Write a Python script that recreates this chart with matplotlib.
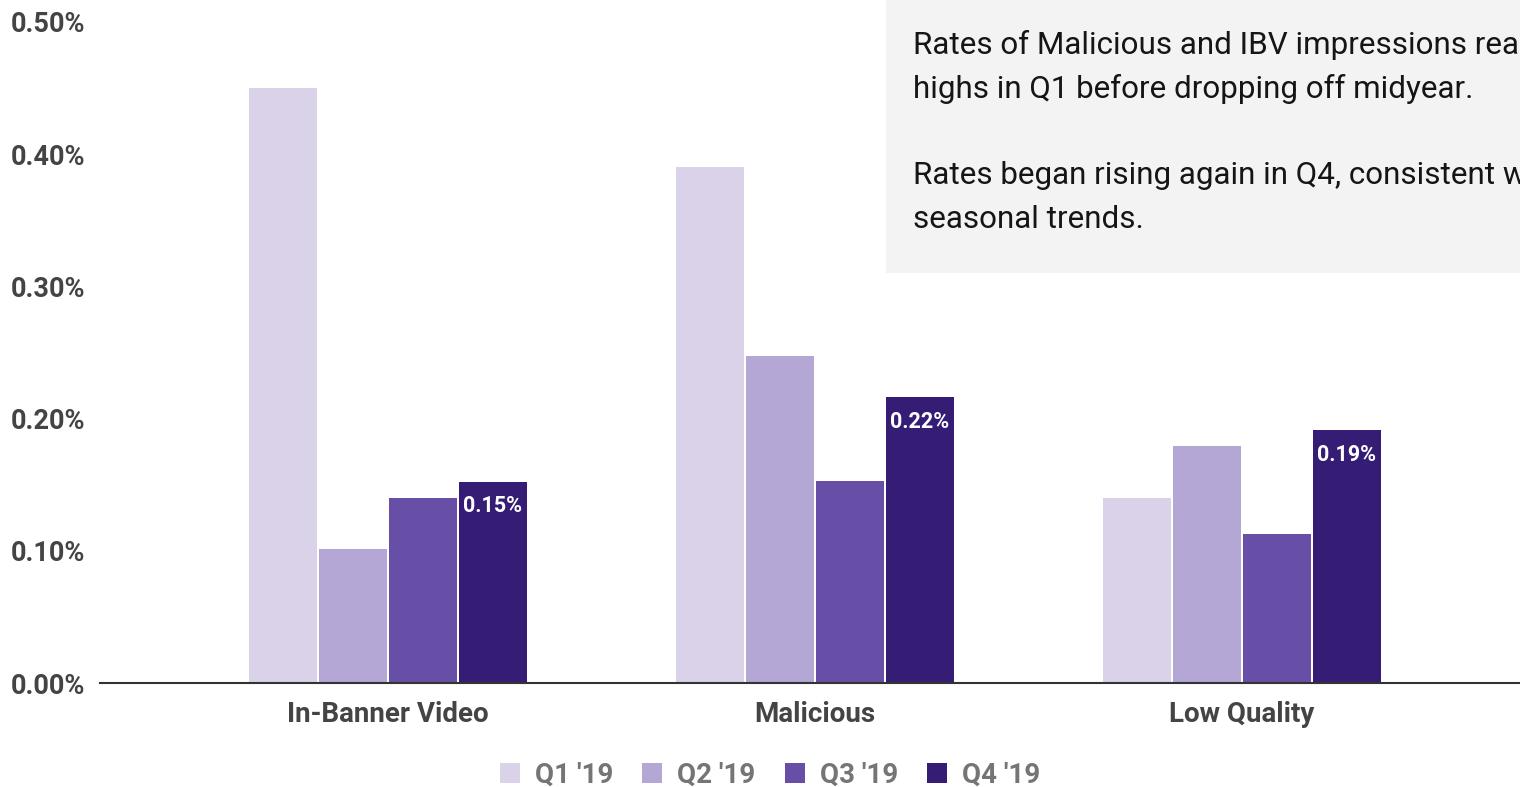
"""Quarterly impression rates by category, grouped bar chart."""

import matplotlib.pyplot as plt
import numpy as np
from matplotlib.patches import Patch, Rectangle

plt.rcParams["font.family"] = ["Roboto", "DejaVu Sans"]

CATEGORIES = ["In-Banner Video", "Malicious", "Low Quality"]
QUARTERS = ["Q1 '19", "Q2 '19", "Q3 '19", "Q4 '19"]

# rates in percent
Q1_RATES = [0.450, 0.390, 0.140]
Q2_RATES = [0.101, 0.247, 0.179]
Q3_RATES = [0.140, 0.153, 0.113]
Q4_RATES = [0.152, 0.216, 0.191]

Y_TICKS = [0.0, 0.1, 0.2, 0.3, 0.4, 0.5]

NOTE_LINES = [
    "Rates of Malicious and IBV impressions reached",
    "highs in Q1 before dropping off midyear.",
    "",
    "Rates began rising again in Q4, consistent with",
    "seasonal trends.",
]

COLORS = ["#d9d2e9", "#b4a7d6", "#674ea7", "#351c75"]
TEXT_DARK = "#444444"
TEXT_LEGEND = "#757575"

W, H = 1520, 787


def main() -> None:
    fig = plt.figure(figsize=(W / 100, H / 100), dpi=100)
    ax = fig.add_axes([100 / W, (H - 683) / H, 1 - 100 / W, (683 - 22) / H])

    series = [Q1_RATES, Q2_RATES, Q3_RATES, Q4_RATES]
    x = np.arange(len(CATEGORIES))
    step = 70 / 427
    width = 68 / 427
    for i, (vals, color) in enumerate(zip(series, COLORS)):
        offs = (i - 1.5) * step
        bars = ax.bar(x + offs, vals, width=width, color=color, zorder=2)
        if i == 3:
            for b, v in zip(bars, vals):
                ax.annotate(f"{v:.2f}%", (b.get_x() + b.get_width() / 2, v),
                            xytext=(0, -9.5), textcoords="offset points",
                            ha="center", va="top", color="white",
                            fontsize=15.5, fontweight="bold", zorder=3)

    ax.set_xlim((100 - 388) / 427, (1520 - 388) / 427)
    ax.set_ylim(0, 0.5)
    ax.set_yticks(Y_TICKS)
    ax.set_yticklabels([f"{t:.2f}%" for t in Y_TICKS])
    ax.set_xticks(x)
    ax.set_xticklabels(CATEGORIES)
    ax.tick_params(axis="both", length=0, labelcolor=TEXT_DARK)
    ax.tick_params(axis="y", pad=10.8, labelsize=19.5)
    ax.tick_params(axis="x", pad=13, labelsize=20)
    for lab in ax.get_xticklabels() + ax.get_yticklabels():
        lab.set_fontweight("bold")

    for side in ["top", "right", "left"]:
        ax.spines[side].set_visible(False)
    ax.spines["bottom"].set_color("#333333")
    ax.spines["bottom"].set_linewidth(1.5)
    ax.spines["bottom"].set_zorder(4)

    handles = [Patch(facecolor=c, edgecolor="none") for c in COLORS]
    fig.legend(handles, QUARTERS, loc="center", ncol=4, frameon=False,
               bbox_to_anchor=(770 / W, (H - 775) / H),
               prop={"size": 20, "weight": "bold"}, labelcolor=TEXT_LEGEND,
               handlelength=0.72, handleheight=0.72, handletextpad=0.54,
               columnspacing=1.05, borderpad=0)

    # note box in the upper right, runs past the right edge
    fig.patches.append(Rectangle((886 / W, (H - 273) / H), 1, 273 / H,
                                 transform=fig.transFigure, facecolor="#f3f3f3",
                                 edgecolor="none", zorder=1))
    for k, line in enumerate(NOTE_LINES):
        if line:
            fig.text(913 / W, (H - 54 - 43.5 * k) / H, line, fontsize=22.6,
                     color="#151515", va="baseline", ha="left", zorder=2)

    fig.savefig("out.png", dpi=100)
    plt.close(fig)


if __name__ == "__main__":
    main()
